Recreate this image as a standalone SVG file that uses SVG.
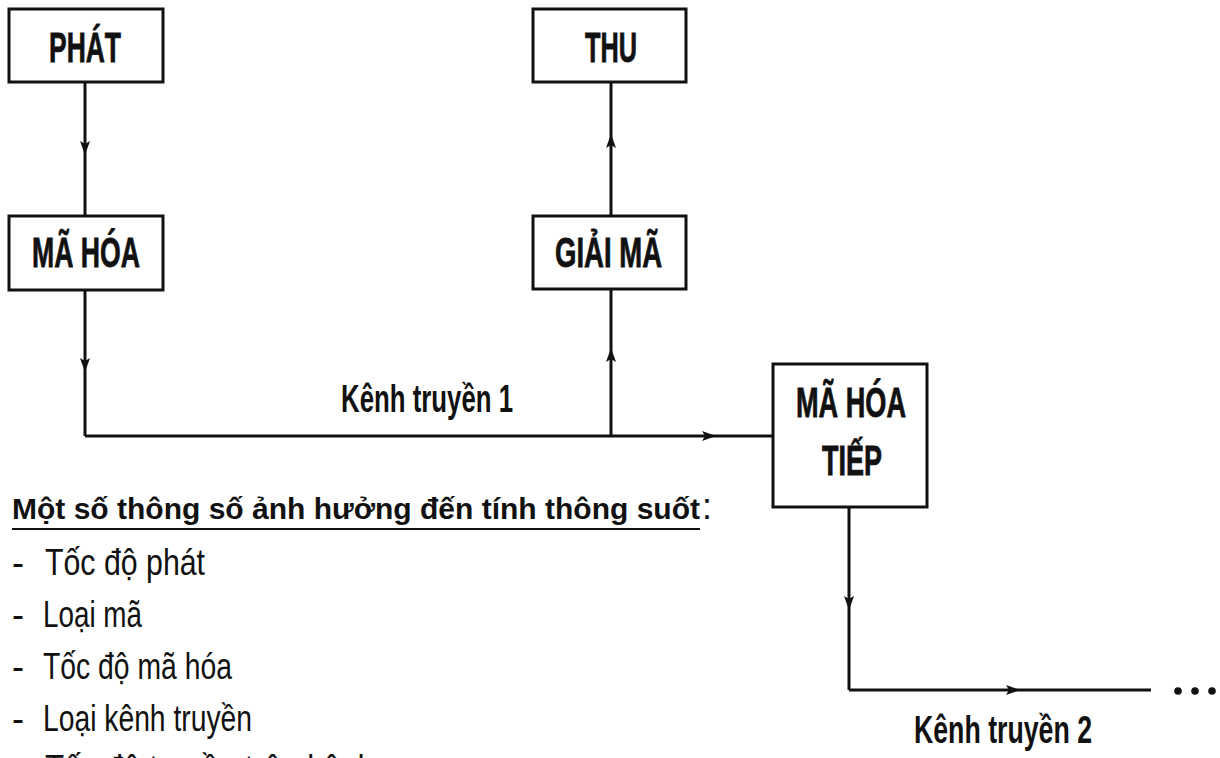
<svg xmlns="http://www.w3.org/2000/svg" width="1220" height="758" viewBox="0 0 1220 758">
  <style>
    .box { fill: #ffffff; stroke: #111111; stroke-width: 3; }
    .lbl { font-family: "Liberation Sans", Arial, sans-serif; font-weight: bold; font-size: 43px; fill: #111111; stroke: #111111; stroke-width: 0.8; }
    .wire { fill: none; stroke: #111111; stroke-width: 3; }
    .chan { font-family: "Liberation Sans", Arial, sans-serif; font-weight: bold; font-size: 39px; fill: #111111; }
    .head { font-family: "Liberation Sans", Arial, sans-serif; font-weight: bold; font-size: 30px; fill: #111111; }
    .item { font-family: "Liberation Sans", Arial, sans-serif; font-size: 36px; fill: #111111; }
  </style>
  <defs>
    <marker id="arrow" viewBox="0 0 15 11" refX="12" refY="5.5" markerWidth="15" markerHeight="11" markerUnits="userSpaceOnUse" orient="auto">
      <path d="M0,0.5 L14,5.5 L0,10.5 L3,5.5 z" fill="#111111"/>
    </marker>
  </defs>
  <rect width="1220" height="758" fill="#ffffff"/>

  <!-- connectors -->
  <g id="connectors">
    <!-- PHÁT -> MÃ HÓA -->
    <path class="wire" d="M85,82 L85,153 L85,216" marker-mid="url(#arrow)"/>
    <!-- MÃ HÓA down to channel 1 -->
    <path class="wire" d="M85,290 L85,370 L85,436" marker-mid="url(#arrow)"/>
    <!-- channel 1 -> MÃ HÓA TIẾP -->
    <path class="wire" d="M85,436 L714,436 L773,436" marker-mid="url(#arrow)"/>
    <!-- channel 1 tap -> GIẢI MÃ -->
    <path class="wire" d="M611,436 L611,350 L611,289" marker-mid="url(#arrow)"/>
    <!-- GIẢI MÃ -> THU -->
    <path class="wire" d="M611,216 L611,136 L611,82" marker-mid="url(#arrow)"/>
    <!-- MÃ HÓA TIẾP down to channel 2 -->
    <path class="wire" d="M849,507 L849,608 L849,690" marker-mid="url(#arrow)"/>
    <!-- channel 2 -->
    <path class="wire" d="M849,690 L1018,690 L1151,690" marker-mid="url(#arrow)"/>
    <circle cx="1178" cy="691" r="3.8" fill="#111111"/>
    <circle cx="1195" cy="691" r="3.8" fill="#111111"/>
    <circle cx="1212" cy="691" r="3.8" fill="#111111"/>
    <text class="chan" x="341" y="412" textLength="172" lengthAdjust="spacingAndGlyphs">Kênh truyền 1</text>
    <text class="chan" x="914" y="743" textLength="178" lengthAdjust="spacingAndGlyphs">Kênh truyền 2</text>
  </g>

  <g id="phat">
    <rect class="box" x="9" y="9" width="154" height="73"/>
    <text class="lbl" x="49" y="62" textLength="72" lengthAdjust="spacingAndGlyphs">PHÁT</text>
  </g>
  <g id="ma-hoa">
    <rect class="box" x="9" y="216" width="154" height="74"/>
    <text class="lbl" x="32" y="267" textLength="108" lengthAdjust="spacingAndGlyphs">MÃ HÓA</text>
  </g>
  <g id="thu">
    <rect class="box" x="533" y="9" width="153" height="73"/>
    <text class="lbl" x="585" y="62" textLength="52" lengthAdjust="spacingAndGlyphs">THU</text>
  </g>
  <g id="giai-ma">
    <rect class="box" x="533" y="216" width="153" height="73"/>
    <text class="lbl" x="555" y="267" textLength="107" lengthAdjust="spacingAndGlyphs">GIẢI MÃ</text>
  </g>
  <g id="ma-hoa-tiep">
    <rect class="box" x="773" y="364" width="154" height="143"/>
    <text class="lbl" x="796" y="417" textLength="110" lengthAdjust="spacingAndGlyphs">MÃ HÓA</text>
    <text class="lbl" x="822" y="475" textLength="60" lengthAdjust="spacingAndGlyphs">TIẾP</text>
  </g>

  <!-- parameter list -->
  <g id="notes">
    <text class="head" x="12" y="519" textLength="688" lengthAdjust="spacingAndGlyphs">Một số thông số ảnh hưởng đến tính thông suốt</text>
    <line x1="12" y1="529" x2="700" y2="529" stroke="#111111" stroke-width="2"/>
    <text class="item" x="702" y="519">:</text>
    <text class="item" x="12" y="575">-</text>
    <text class="item" x="45" y="575" textLength="160" lengthAdjust="spacingAndGlyphs">Tốc độ phát</text>
    <text class="item" x="12" y="627">-</text>
    <text class="item" x="43" y="627" textLength="99" lengthAdjust="spacingAndGlyphs">Loại mã</text>
    <text class="item" x="12" y="679">-</text>
    <text class="item" x="43" y="679" textLength="189" lengthAdjust="spacingAndGlyphs">Tốc độ mã hóa</text>
    <text class="item" x="12" y="731">-</text>
    <text class="item" x="43" y="731" textLength="209" lengthAdjust="spacingAndGlyphs">Loại kênh truyền</text>
    <text class="item" x="12" y="781">-</text>
    <text class="item" x="45" y="781" textLength="330" lengthAdjust="spacingAndGlyphs">Tốc độ truyền trên kênh</text>
  </g>
</svg>
